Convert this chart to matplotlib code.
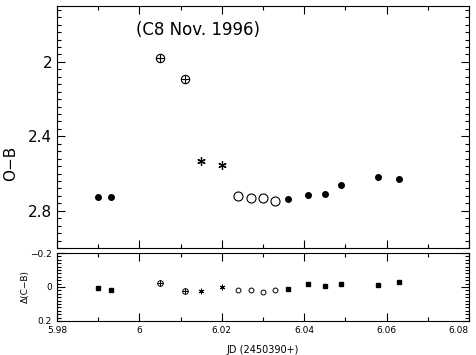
import matplotlib
matplotlib.use("Agg")
import matplotlib.pyplot as plt
from matplotlib.ticker import MultipleLocator, FixedLocator

# ---- data ----
fill1_x = [5.990, 5.993]
fill1_y = [2.727, 2.727]
cross_x = [6.005, 6.011]
cross_y = [1.980, 2.092]
ast_x = [6.015, 6.020]
ast_y = [2.535, 2.555]
open_x = [6.024, 6.027, 6.030, 6.033]
open_y = [2.718, 2.734, 2.731, 2.750]
fill2_x = [6.036, 6.041, 6.045, 6.049, 6.058, 6.063]
fill2_y = [2.738, 2.715, 2.711, 2.661, 2.620, 2.628]

res_fill1 = [0.004, 0.020]
res_cross = [-0.025, 0.025]
res_ast = [0.025, 0.002]
res_open = [0.020, 0.020, 0.030, 0.020]
res_fill2 = [0.013, -0.020, -0.008, -0.017, -0.014, -0.028]

title_text = "(C8 Nov. 1996)"
xticks = [5.98, 6.00, 6.02, 6.04, 6.06, 6.08]
xticklabels = ["5.98", "6", "6.02", "6.04", "6.06", "6.08"]
top_yticks = [2.0, 2.4, 2.8]
top_yticklabels = ["2", "2.4", "2.8"]
bot_yticks = [-0.2, 0.0, 0.2]
bot_yticklabels = ["\u22120.2", "0", "0.2"]

plt.rcParams['font.family'] = ['DejaVu Sans']
fig = plt.figure(figsize=(4.76, 3.55), dpi=100)
ax1 = fig.add_axes([0.1197, 0.3014, 0.8655, 0.6817])
ax2 = fig.add_axes([0.1197, 0.0958, 0.8655, 0.1915])

lw = 0.8
for ax in (ax1, ax2):
    for s in ax.spines.values():
        s.set_linewidth(lw)
    ax.set_xlim(5.98, 6.08)
    ax.xaxis.set_major_locator(FixedLocator(xticks))
    ax.xaxis.set_minor_locator(MultipleLocator(0.01))
    ax.tick_params(which='both', direction='in', top=True, right=True, width=lw)
    ax.tick_params(which='major', length=6)
    ax.tick_params(which='minor', length=3)

# top panel
ax1.plot(fill1_x, fill1_y, 'o', color='black', ms=4.0, ls='none')
ax1.plot(fill2_x, fill2_y, 'o', color='black', ms=4.0, ls='none')
ax1.plot(cross_x, cross_y, 'o', mfc='white', mec='black', mew=0.8, ms=6, ls='none')
ax1.plot(cross_x, cross_y, '+', color='black', mew=0.8, ms=6, ls='none')
ax1.plot(ast_x, ast_y, marker=(6, 2, 0), color='black', mew=0.9, ms=6, ls='none')
ax1.plot(open_x, open_y, 'o', mfc='white', mec='black', mew=0.8, ms=6.5, ls='none')
ax1.set_ylim(3.0, 1.7)
ax1.yaxis.set_major_locator(FixedLocator(top_yticks))
ax1.set_yticklabels(top_yticklabels, fontsize=11)
ax1.yaxis.set_minor_locator(MultipleLocator(0.04))
ax1.tick_params(axis='x', labelbottom=False)
ax1.set_ylabel("O\u2212B", fontsize=11)
ax1.yaxis.set_label_coords(-0.095, 0.35)
ax1.text(6.0143, 1.83, title_text, fontsize=12, ha='center', va='center')

# bottom panel
ax2.plot(fill1_x, res_fill1, 's', color='black', ms=2.2, ls='none')
ax2.plot(fill2_x, res_fill2, 's', color='black', ms=2.2, ls='none')
ax2.plot(cross_x, res_cross, 'o', mfc='white', mec='black', mew=0.7, ms=4, ls='none')
ax2.plot(cross_x, res_cross, '+', color='black', mew=0.7, ms=4, ls='none')
ax2.plot(ast_x, res_ast, marker=(6, 2, 0), color='black', mew=0.7, ms=4, ls='none')
ax2.plot(open_x, res_open, 'o', mfc='white', mec='black', mew=0.7, ms=3.5, ls='none')
ax2.set_ylim(0.2, -0.2)
ax2.yaxis.set_major_locator(FixedLocator(bot_yticks))
ax2.set_yticklabels(bot_yticklabels, fontsize=6.5)
ax2.yaxis.set_minor_locator(MultipleLocator(0.02))
ax2.set_xticklabels(xticklabels, fontsize=6.5)
ax2.get_xticklabels()[-1].set_horizontalalignment('right')
ax2.set_ylabel("\u0394(C\u2212B)", fontsize=6.5)
ax2.yaxis.set_label_coords(-0.065, 0.5)
ax2.set_xlabel("JD (2450390+)", fontsize=7, labelpad=7)

fig.savefig("out.png", dpi=100)
